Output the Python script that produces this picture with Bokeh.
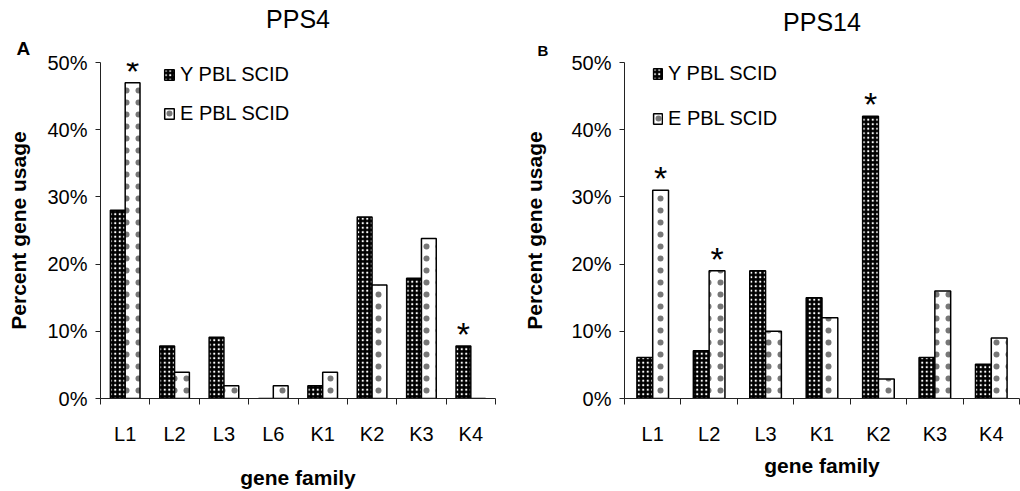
from bokeh.plotting import figure
from bokeh.layouts import row
from bokeh.models import FixedTicker, Legend, LegendItem, Title, ColumnDataSource
from bokeh.core.properties import value
from bokeh.embed import file_html
from bokeh.resources import INLINE

# ---- data ----
families_a = ["L1", "L2", "L3", "L6", "K1", "K2", "K3", "K4"]
young_a = [28, 7.8, 9.1, 0, 1.9, 27, 17.9, 7.8]
elderly_a = [47, 3.9, 1.9, 1.9, 3.9, 16.9, 23.8, 0]
stars_young_a = ["K4"]
stars_elderly_a = ["L1"]

families_b = ["L1", "L2", "L3", "K1", "K2", "K3", "K4"]
young_b = [6.1, 7.1, 19, 15, 42, 6.1, 5.1]
elderly_b = [31, 19, 10, 12, 2.9, 16, 9]
stars_young_b = ["K2"]
stars_elderly_b = ["L1", "L2"]

y_ticks = [0, 10, 20, 30, 40, 50]
series_names = ["Y PBL SCID", "E PBL SCID"]

NARROW = "'Liberation Sans Narrow', 'Arial Narrow', 'Liberation Sans', Arial, sans-serif"
SANS = "'Liberation Sans', Arial, sans-serif"
AXC = "#222222"
ITEM_H = 22.5


def panel(families, young, elderly, st_y, st_e, title, letter, x0, width, bl, br, bt, bb,
          bar_w, title_cx, letter_x, letter_size, letter_standoff, title_standoff,
          leg_x, leg_top, leg_spacing, glyph_w, glyph_h, ylab_standoff, xlab_standoff):
    n = len(families)
    p = figure(width=width, height=491, output_backend="svg", toolbar_location=None,
               title=None,
               x_range=(0, n), y_range=(0, 50), min_border_left=bl, min_border_right=br,
               min_border_top=bt, min_border_bottom=bb)
    p.outline_line_color = None
    p.grid.visible = False
    p.background_fill_color = "white"
    p.border_fill_color = "white"

    xc = [i + 0.5 for i in range(n)]
    src = ColumnDataSource(dict(
        xy=[c - bar_w / 2 for c in xc], xe=[c + bar_w / 2 for c in xc],
        young=young, elderly=elderly))
    ry = p.vbar(x="xy", top="young", bottom=0, width=bar_w, source=src,
                fill_color="black", line_color="black", line_width=1.5,
                hatch_pattern="dot", hatch_color="white", hatch_scale=4.5, hatch_weight=2.4)
    re = p.vbar(x="xe", top="elderly", bottom=0, width=bar_w, source=src,
                fill_color="white", line_color="black", line_width=1.5,
                hatch_pattern="dot", hatch_color="#777777", hatch_scale=12, hatch_weight=0.5)

    # asterisks
    sx, sy = [], []
    for f in st_y:
        i = families.index(f)
        sx.append(xc[i] - bar_w / 2); sy.append(young[i])
    for f in st_e:
        i = families.index(f)
        sx.append(xc[i] + bar_w / 2); sy.append(elderly[i])
    p.text(x=sx, y=sy, text=["*"] * len(sx), text_align="center", text_baseline="alphabetic",
           y_offset=-12, text_font=value(SANS), text_font_size="34px", text_color="black")

    # axes
    xa = p.xaxis[0]
    xa.ticker = FixedTicker(ticks=xc, minor_ticks=list(range(n + 1)))
    xa.major_label_overrides = {c: f for c, f in zip(xc, families)}
    xa.major_tick_out = 0
    xa.major_tick_in = 0
    xa.minor_tick_out = 6
    xa.minor_tick_in = 0
    xa.axis_line_color = AXC
    xa.minor_tick_line_color = AXC
    xa.major_label_text_font = NARROW
    xa.major_label_text_font_size = "20px"
    xa.major_label_text_color = "black"
    xa.major_label_standoff = 18
    xa.axis_label = "gene family"
    xa.axis_label_text_font = SANS
    xa.axis_label_text_font_style = "bold"
    xa.axis_label_text_font_size = "21px"
    xa.axis_label_text_color = "black"
    xa.axis_label_standoff = xlab_standoff

    ya = p.yaxis[0]
    ya.ticker = FixedTicker(ticks=y_ticks, minor_ticks=[])
    ya.major_label_overrides = {t: f"{t}%" for t in y_ticks}
    ya.major_tick_out = 5
    ya.major_tick_in = 0
    ya.minor_tick_line_color = None
    ya.axis_line_color = AXC
    ya.major_tick_line_color = AXC
    ya.major_label_text_font = NARROW
    ya.major_label_text_font_size = "20px"
    ya.major_label_text_color = "black"
    ya.major_label_standoff = 8
    ya.axis_label = "Percent gene usage"
    ya.axis_label_text_font = SANS
    ya.axis_label_text_font_style = "bold"
    ya.axis_label_text_font_size = "21px"
    ya.axis_label_text_color = "black"
    ya.axis_label_standoff = ylab_standoff

    frame_cx = (bl + width - br) / 2
    # panel letter (closest to the frame), then the title above it
    p.add_layout(Title(text=letter, align="left", offset=letter_x - x0 - bl,
                       text_font=SANS, text_font_style="bold", text_font_size=letter_size,
                       text_color="black", standoff=letter_standoff), "above")
    p.add_layout(Title(text=title, align="center", offset=title_cx - x0 - frame_cx,
                       text_font=SANS, text_font_style="normal", text_font_size="25px",
                       text_color="black", standoff=title_standoff), "above")

    fh = 491 - bt - bb
    leg_h = 2 * ITEM_H + leg_spacing
    leg = Legend(items=[LegendItem(label=series_names[0], renderers=[ry]),
                        LegendItem(label=series_names[1], renderers=[re])],
                 location=(leg_x - x0 - bl, fh - (leg_top - bt) - leg_h),
                 orientation="vertical")
    leg.background_fill_alpha = 0
    leg.border_line_color = None
    leg.padding = 0
    leg.margin = 0
    leg.spacing = leg_spacing
    leg.glyph_width = glyph_w
    leg.glyph_height = glyph_h
    leg.label_standoff = 5
    leg.label_text_font = NARROW
    leg.label_text_font_size = "20px"
    leg.label_text_color = "black"
    leg.label_height = glyph_h
    p.add_layout(leg, "center")
    return p


pa = panel(families_a, young_a, elderly_a, stars_young_a, stars_elderly_a, "PPS4", "A",
           x0=0, width=510, bl=100, br=15, bt=60, bb=89, bar_w=0.30,
           title_cx=226, letter_x=16, letter_size="19px", letter_standoff=8, title_standoff=-3,
           leg_x=163, leg_top=68, leg_spacing=16, glyph_w=12, glyph_h=13,
           ylab_standoff=14, xlab_standoff=18)
pb = panel(families_b, young_b, elderly_b, stars_young_b, stars_elderly_b, "PPS14", "B",
           x0=510, width=510, bl=114, br=1, bt=62, bb=92, bar_w=0.28,
           title_cx=783, letter_x=537, letter_size="15px", letter_standoff=8, title_standoff=0,
           leg_x=652, leg_top=64, leg_spacing=22, glyph_w=11, glyph_h=13,
           ylab_standoff=22, xlab_standoff=6)

layout = row(pa, pb)
open("out.html", "w").write(file_html(layout, INLINE))
